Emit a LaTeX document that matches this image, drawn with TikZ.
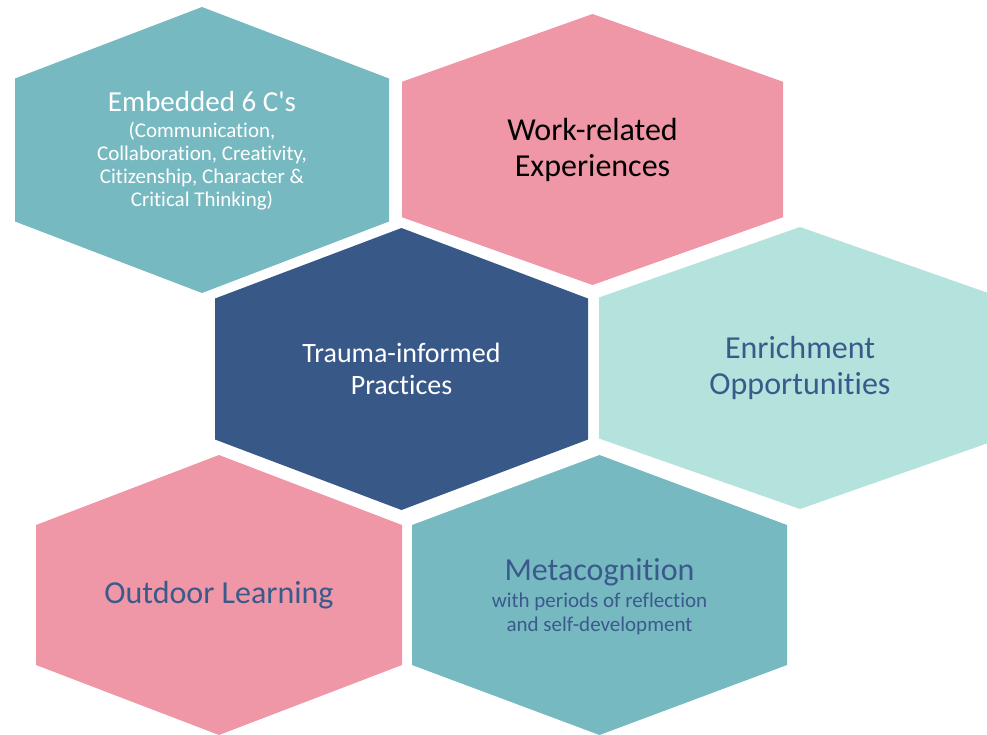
\documentclass[tikz,border=0pt]{standalone}
\usepackage{fontspec}
\setmainfont{Carlito}[Ligatures=CommonOff]
\usepackage{xcolor}
\usetikzlibrary{positioning}
\definecolor{hexteal}{HTML}{77B9C1}
\definecolor{hexpink}{HTML}{EF97A6}
\definecolor{hexnavy}{HTML}{385888}
\definecolor{hexmint}{HTML}{B4E2DC}
\definecolor{textnavy}{HTML}{3A5A8C}
\tikzset{
    label/.style={
        align=center,
        inner sep=0pt,
    },
    bigtext/.style={
        label,
        font=\fontsize{32}{36}\selectfont,
    },
}
% centre x, centre y, half width, half height, colour
\newcommand{\hexa}[5]{%
    \fill[#5] (#1-#3,#2-#4/2) -- (#1,#2-#4) -- (#1+#3,#2-#4/2)
        -- (#1+#3,#2+#4/2) -- (#1,#2+#4) -- (#1-#3,#2+#4/2) -- cycle;
}

\begin{document}
\begin{tikzpicture}[x=1pt, y=-1pt]
      \useasboundingbox (0,0) rectangle (987,734);
      \clip (0,0) rectangle (987,734);

      \hexa{202}{150}{187}{143}{hexteal}
      \hexa{592.5}{149.5}{190.5}{135.5}{hexpink}
      \hexa{401.5}{369}{186.5}{141}{hexnavy}
      \hexa{800}{368}{201}{141}{hexmint}
      \hexa{219}{595}{183}{140}{hexpink}
      \hexa{599.5}{595}{187.5}{140}{hexteal}

      \node[label, white, font=\fontsize{21}{23}\selectfont] (sixc) at (202,151)
        {{\fontsize{29}{29}\selectfont Embedded 6 C\textquotesingle s}\\[3pt]
         (Communication,\\
         Collaboration, Creativity,\\
         Citizenship, Character \&\\
         Critical Thinking)};

      \node[bigtext, black] (work) at (592.5,149.5)
        {Work-related\\Experiences};

      \node[label, white, font=\fontsize{28}{32}\selectfont] (trauma) at (401.5,369)
        {Trauma-informed\\Practices};

      \node[bigtext, textnavy] (enrich) at (800,368)
        {Enrichment\\Opportunities};

      \node[bigtext, textnavy] (outdoor) at (219,595) {Outdoor Learning};

      \node[label, textnavy, font=\fontsize{21}{24}\selectfont] (meta) at (599.5,597)
        {{\fontsize{32}{32}\selectfont Metacognition}\\[3pt]
         with periods of reflection\\
         and self-development};
\end{tikzpicture}
\end{document}
